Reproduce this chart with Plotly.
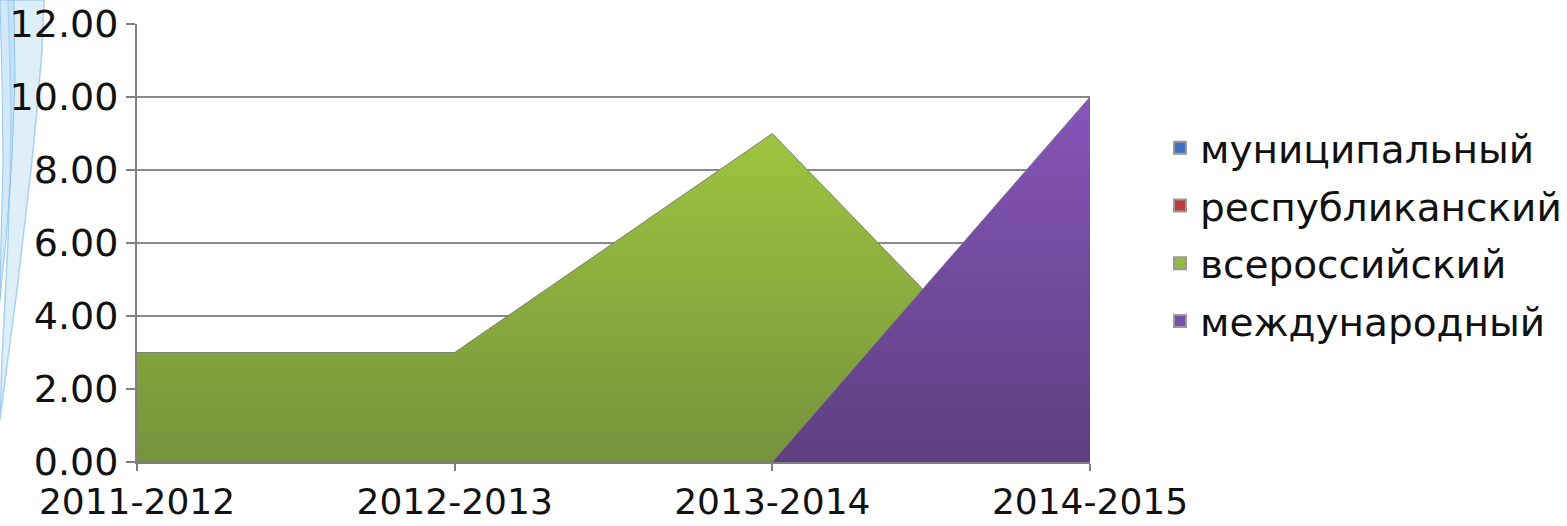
import plotly.graph_objects as go

categories = ["2011-2012", "2012-2013", "2013-2014", "2014-2015"]
series_names = ["муниципальный", "республиканский", "всероссийский", "международный"]
municipal = [0, 0, 0, 0]
republican = [0, 0, 0, 0]
all_russian = [3, 3, 9, 0]
international = [0, 0, 0, 10]
y_ticks = [0, 2, 4, 6, 8, 10, 12]

series_values = [municipal, republican, all_russian, international]
legend_colors = ["#3F6FC4", "#C0393B", "#92BA3C", "#7A4EAE"]
gradients = [
    [[0, "#4A7EBB"], [1, "#2C5A93"]],
    [[0, "#C0504D"], [1, "#8E3230"]],
    [[0, "#76923C"], [1, "#9DC53F"]],
    [[0, "#5E3F80"], [1, "#8755BA"]],
]

W, H = 1567, 526
L, R, T, B = 137, 1090, 24, 462


def px(x):
    return (x - L) / (R - L)


def py(y):
    return (B - y) / (B - T)


fig = go.Figure()
for name, vals, grad in zip(series_names, series_values, gradients):
    visible_area = max(vals) > 0
    fig.add_trace(go.Scatter(
        x=categories, y=vals, mode="lines", fill="tozeroy",
        line=dict(color="rgba(120,120,120,0.9)" if visible_area else "rgba(0,0,0,0)", width=1),
        fillgradient=dict(type="vertical", colorscale=grad),
        showlegend=False, hoverinfo="skip", name=name,
    ))
for i, (name, col) in enumerate(zip(series_names, legend_colors)):
    fig.add_trace(go.Scatter(
        x=[None], y=[None], mode="markers", name=name, legendgroup=f"g{i}",
        marker=dict(symbol="square", size=13, color=col, line=dict(color="#9a9a9a", width=1)),
    ))


# decorative light-blue swirl at left edge (background art)
def ribbon(points_out, points_in):
    pts = points_out + points_in[::-1]
    return "M " + " L ".join(f"{px(x):.4f},{py(y):.4f}" for x, y in pts) + " Z"


outer = [(8, 0), (10, 60), (11, 120), (10, 180), (8, 240), (5, 300), (2, 360), (0, 420)]
inner = [(44, 0), (42, 50), (37, 110), (31, 170), (24, 230), (17, 290), (9, 350), (0, 420)]
outer2 = [(0, 0), (2, 80), (3, 160), (1, 240), (0, 300)]
inner2 = [(14, 0), (15, 80), (12, 160), (6, 240), (0, 300)]
shapes = [
    dict(type="path", xref="paper", yref="paper", path=ribbon(outer, inner),
         fillcolor="rgba(200,228,247,0.6)", line=dict(color="rgba(150,200,238,0.8)", width=1.5),
         layer="below"),
    dict(type="path", xref="paper", yref="paper", path=ribbon(outer2, inner2),
         fillcolor="rgba(175,213,242,0.55)", line=dict(color="rgba(120,180,230,0.7)", width=1),
         layer="below"),
]

font = "DejaVu Sans"
fig.update_layout(
    width=W, height=H,
    margin=dict(l=L, r=W - R, t=T, b=H - B, autoexpand=False),
    paper_bgcolor="white", plot_bgcolor="white",
    font=dict(family=font, size=37, color="#111111"),
    shapes=shapes,
    legend=dict(x=px(1160), y=py(116), xanchor="left", yanchor="top",
                font=dict(family=font, size=39, color="#111111"),
                itemsizing="constant", tracegroupgap=4, itemwidth=30),
    xaxis=dict(type="category", range=[0, 3], showgrid=False, automargin=False,
               showline=True, linecolor="#7f7f7f", linewidth=2,
               ticks="outside", ticklen=7, tickcolor="#7f7f7f", tickwidth=2,
               tickfont=dict(family=font, size=36), fixedrange=True),
    yaxis=dict(range=[0, 12], tickvals=y_ticks, tickformat=".2f", automargin=False,
               showgrid=True, gridcolor="#8a8a8a", gridwidth=2,
               showline=True, linecolor="#7f7f7f", linewidth=2,
               ticks="outside", ticklen=9, tickcolor="#7f7f7f", tickwidth=2,
               tickfont=dict(family=font, size=38), zeroline=False, fixedrange=True),
)

fig.write_html("out.html", config={"displayModeBar": False, "staticPlot": True},
               post_script="document.body.style.margin='0';document.body.style.overflow='hidden';")
